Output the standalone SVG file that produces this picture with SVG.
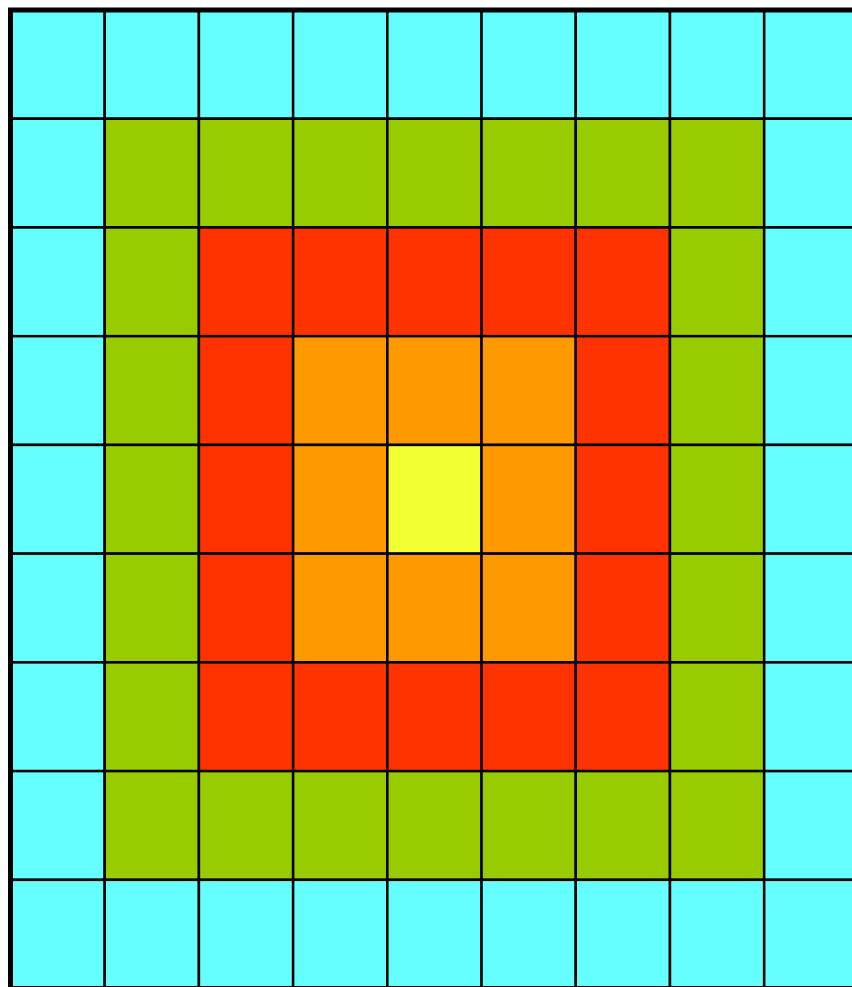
<svg xmlns="http://www.w3.org/2000/svg" width="852" height="987" viewBox="0 0 852 987">
<style>
rect{stroke:#000;stroke-width:2.5}
.c{fill:#66FFFF}.g{fill:#99CC00}.r{fill:#FF3300}.o{fill:#FF9900}.y{fill:#F2FF33}
.b{fill:none;stroke-width:5}
.bg{fill:#fff;stroke:none}
</style>
<rect class="bg" width="852" height="987"/>
<g id="row0">
<rect class="c" x="10.5" y="10" width="94.21" height="108.73"/><rect class="c" x="104.71" y="10" width="94.21" height="108.73"/><rect class="c" x="198.92" y="10" width="94.21" height="108.73"/><rect class="c" x="293.13" y="10" width="94.21" height="108.73"/><rect class="c" x="387.34" y="10" width="94.21" height="108.73"/><rect class="c" x="481.55" y="10" width="94.21" height="108.73"/><rect class="c" x="575.76" y="10" width="94.21" height="108.73"/><rect class="c" x="669.97" y="10" width="94.21" height="108.73"/><rect class="c" x="764.18" y="10" width="94.21" height="108.73"/>
</g>
<g id="row1">
<rect class="c" x="10.5" y="118.73" width="94.21" height="108.73"/><rect class="g" x="104.71" y="118.73" width="94.21" height="108.73"/><rect class="g" x="198.92" y="118.73" width="94.21" height="108.73"/><rect class="g" x="293.13" y="118.73" width="94.21" height="108.73"/><rect class="g" x="387.34" y="118.73" width="94.21" height="108.73"/><rect class="g" x="481.55" y="118.73" width="94.21" height="108.73"/><rect class="g" x="575.76" y="118.73" width="94.21" height="108.73"/><rect class="g" x="669.97" y="118.73" width="94.21" height="108.73"/><rect class="c" x="764.18" y="118.73" width="94.21" height="108.73"/>
</g>
<g id="row2">
<rect class="c" x="10.5" y="227.46" width="94.21" height="108.73"/><rect class="g" x="104.71" y="227.46" width="94.21" height="108.73"/><rect class="r" x="198.92" y="227.46" width="94.21" height="108.73"/><rect class="r" x="293.13" y="227.46" width="94.21" height="108.73"/><rect class="r" x="387.34" y="227.46" width="94.21" height="108.73"/><rect class="r" x="481.55" y="227.46" width="94.21" height="108.73"/><rect class="r" x="575.76" y="227.46" width="94.21" height="108.73"/><rect class="g" x="669.97" y="227.46" width="94.21" height="108.73"/><rect class="c" x="764.18" y="227.46" width="94.21" height="108.73"/>
</g>
<g id="row3">
<rect class="c" x="10.5" y="336.19" width="94.21" height="108.73"/><rect class="g" x="104.71" y="336.19" width="94.21" height="108.73"/><rect class="r" x="198.92" y="336.19" width="94.21" height="108.73"/><rect class="o" x="293.13" y="336.19" width="94.21" height="108.73"/><rect class="o" x="387.34" y="336.19" width="94.21" height="108.73"/><rect class="o" x="481.55" y="336.19" width="94.21" height="108.73"/><rect class="r" x="575.76" y="336.19" width="94.21" height="108.73"/><rect class="g" x="669.97" y="336.19" width="94.21" height="108.73"/><rect class="c" x="764.18" y="336.19" width="94.21" height="108.73"/>
</g>
<g id="row4">
<rect class="c" x="10.5" y="444.92" width="94.21" height="108.73"/><rect class="g" x="104.71" y="444.92" width="94.21" height="108.73"/><rect class="r" x="198.92" y="444.92" width="94.21" height="108.73"/><rect class="o" x="293.13" y="444.92" width="94.21" height="108.73"/><rect class="y" x="387.34" y="444.92" width="94.21" height="108.73"/><rect class="o" x="481.55" y="444.92" width="94.21" height="108.73"/><rect class="r" x="575.76" y="444.92" width="94.21" height="108.73"/><rect class="g" x="669.97" y="444.92" width="94.21" height="108.73"/><rect class="c" x="764.18" y="444.92" width="94.21" height="108.73"/>
</g>
<g id="row5">
<rect class="c" x="10.5" y="553.65" width="94.21" height="108.73"/><rect class="g" x="104.71" y="553.65" width="94.21" height="108.73"/><rect class="r" x="198.92" y="553.65" width="94.21" height="108.73"/><rect class="o" x="293.13" y="553.65" width="94.21" height="108.73"/><rect class="o" x="387.34" y="553.65" width="94.21" height="108.73"/><rect class="o" x="481.55" y="553.65" width="94.21" height="108.73"/><rect class="r" x="575.76" y="553.65" width="94.21" height="108.73"/><rect class="g" x="669.97" y="553.65" width="94.21" height="108.73"/><rect class="c" x="764.18" y="553.65" width="94.21" height="108.73"/>
</g>
<g id="row6">
<rect class="c" x="10.5" y="662.38" width="94.21" height="108.73"/><rect class="g" x="104.71" y="662.38" width="94.21" height="108.73"/><rect class="r" x="198.92" y="662.38" width="94.21" height="108.73"/><rect class="r" x="293.13" y="662.38" width="94.21" height="108.73"/><rect class="r" x="387.34" y="662.38" width="94.21" height="108.73"/><rect class="r" x="481.55" y="662.38" width="94.21" height="108.73"/><rect class="r" x="575.76" y="662.38" width="94.21" height="108.73"/><rect class="g" x="669.97" y="662.38" width="94.21" height="108.73"/><rect class="c" x="764.18" y="662.38" width="94.21" height="108.73"/>
</g>
<g id="row7">
<rect class="c" x="10.5" y="771.11" width="94.21" height="108.73"/><rect class="g" x="104.71" y="771.11" width="94.21" height="108.73"/><rect class="g" x="198.92" y="771.11" width="94.21" height="108.73"/><rect class="g" x="293.13" y="771.11" width="94.21" height="108.73"/><rect class="g" x="387.34" y="771.11" width="94.21" height="108.73"/><rect class="g" x="481.55" y="771.11" width="94.21" height="108.73"/><rect class="g" x="575.76" y="771.11" width="94.21" height="108.73"/><rect class="g" x="669.97" y="771.11" width="94.21" height="108.73"/><rect class="c" x="764.18" y="771.11" width="94.21" height="108.73"/>
</g>
<g id="row8">
<rect class="c" x="10.5" y="879.84" width="94.21" height="108.73"/><rect class="c" x="104.71" y="879.84" width="94.21" height="108.73"/><rect class="c" x="198.92" y="879.84" width="94.21" height="108.73"/><rect class="c" x="293.13" y="879.84" width="94.21" height="108.73"/><rect class="c" x="387.34" y="879.84" width="94.21" height="108.73"/><rect class="c" x="481.55" y="879.84" width="94.21" height="108.73"/><rect class="c" x="575.76" y="879.84" width="94.21" height="108.73"/><rect class="c" x="669.97" y="879.84" width="94.21" height="108.73"/><rect class="c" x="764.18" y="879.84" width="94.21" height="108.73"/>
</g>
<rect id="border" class="b" x="10.5" y="10" width="847.89" height="978.57"/>
</svg>
